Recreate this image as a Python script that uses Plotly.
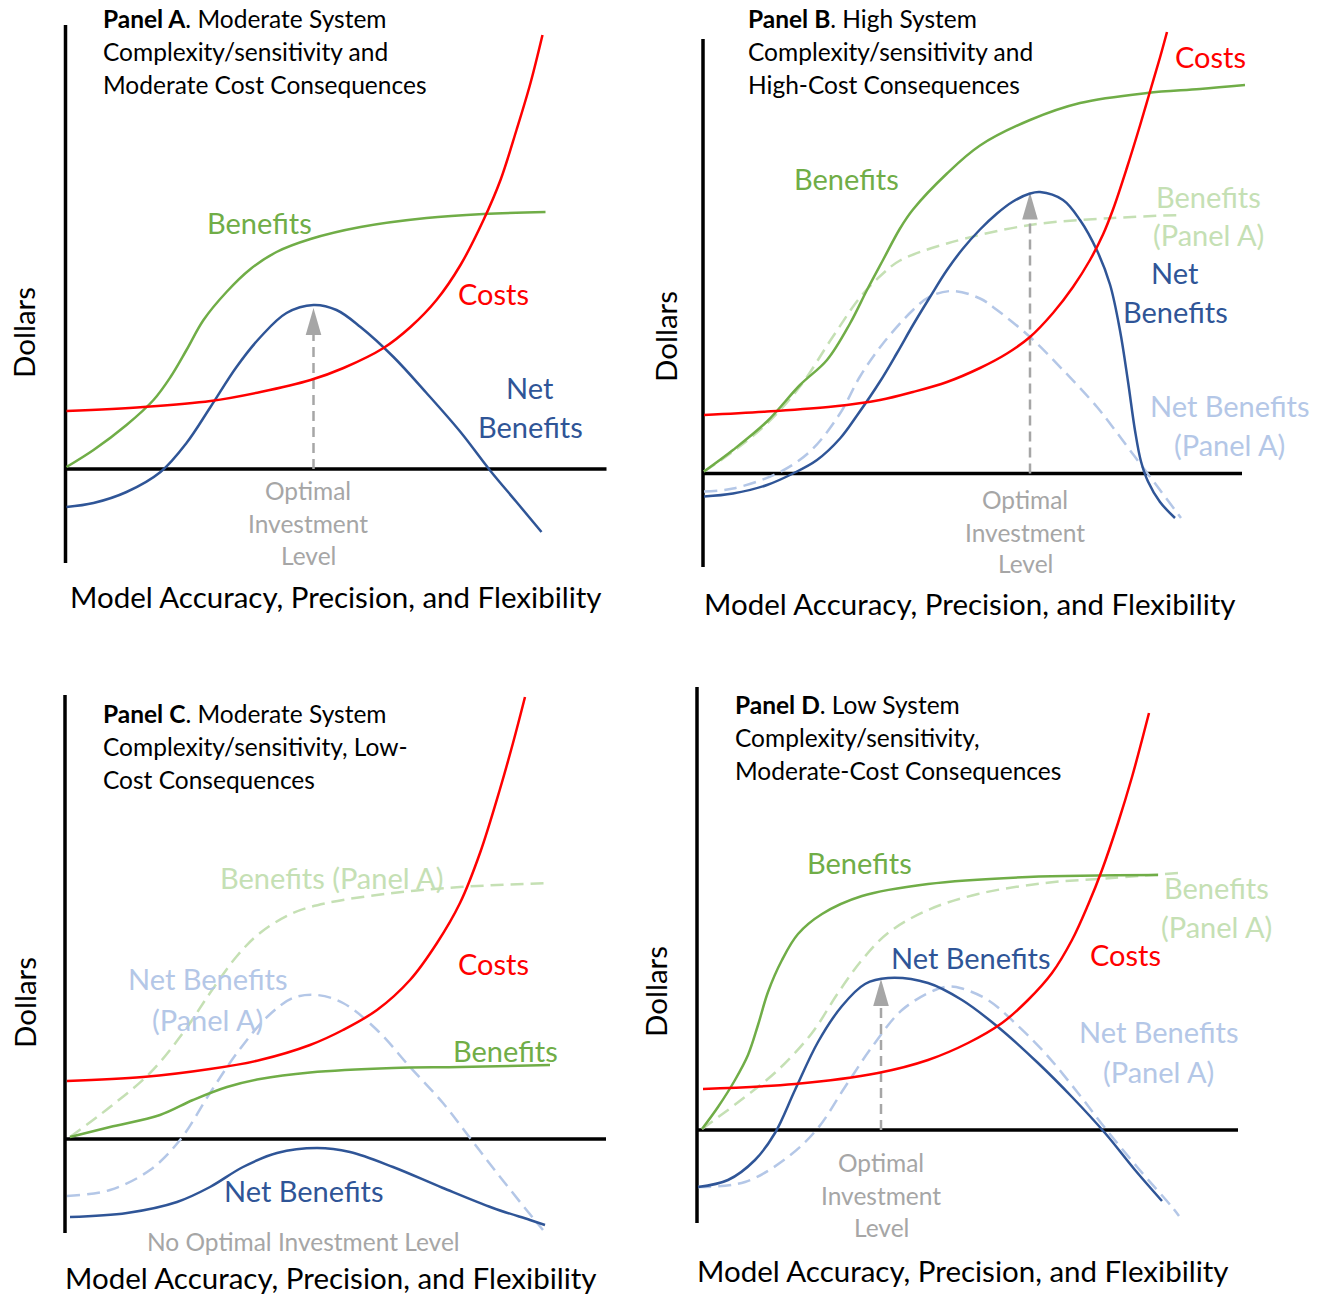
import plotly.graph_objects as go

W, H = 1327, 1295
PX = 10.0  # pixels per data unit (same on both axes)

# ---------------- DATA (arbitrary "dollar" units) ----------------
# Panel A
A_x_costs = [0.1, 7.8, 14.5, 19.5, 24.5, 27.8, 31.8, 34.5, 37.1, 39.5, 41.8, 43.5, 45.1, 46.5, 47.7]
A_costs = [5.8, 6.2, 6.8, 7.7, 8.9, 10.1, 12.1, 14.2, 16.9, 20.4, 24.9, 28.9, 33.9, 38.6, 43.4]
A_x_ben = [0.1, 2.8, 6.1, 8.8, 10.5, 12.1, 13.8, 16.1, 18.5, 21.1, 24.5, 29.5, 36.1, 41.8, 48]
A_ben = [0.2, 1.9, 4.4, 6.9, 9.2, 11.9, 14.9, 17.7, 20.0, 21.7, 23.0, 24.2, 25.1, 25.5, 25.7]
A_x_net = [0.1, 2.8, 6.1, 9.5, 12.1, 14.5, 17.1, 19.5, 22.1, 24.8, 27.1, 29.5, 32.8, 36.1, 39.5, 42.5, 45.1, 47.6]
A_net = [-3.8, -3.4, -2.3, -0.3, 2.6, 6.2, 10.2, 13.2, 15.6, 16.4, 15.9, 14.2, 11.2, 7.6, 3.7, -0.2, -3.3, -6.3]
A_optimal = [24.8, 16.1]            # investment level, net benefit at optimum
A_axes = [54.1, 44.4, -9.4]         # x-axis end, y-axis top, y-axis bottom

# Panel B
B_x_costs = [0.1, 6.4, 13, 17.7, 21, 24.4, 27.7, 30.4, 32.7, 35, 37, 38.7, 40, 41, 42.4, 43.7, 44.7, 45.7, 46.4]
B_costs = [5.85, 6.2, 6.7, 7.35, 8.15, 9.15, 10.55, 12.0, 13.65, 16.05, 18.65, 21.35, 23.9, 26.4, 30.6,
           34.8, 38.2, 41.6, 44.15]
B_x_ben = [0.1, 3, 6.4, 9.7, 12.4, 14.7, 16.4, 18, 19.7, 21, 24.4, 27.7, 32.7, 37.7, 44.4, 49.7, 54.2]
B_ben = [0.2, 2.35, 5.2, 8.85, 11.35, 15.0, 18.35, 21.35, 24.5, 26.4, 30.0, 32.8, 35.35, 37.05, 38.05,
         38.45, 38.85]
B_x_benA = [0.1, 3, 6.4, 9.7, 13, 15.7, 18, 19.7, 24.4, 32.7, 41, 47.7]
B_benA = [0.2, 2.2, 5.0, 8.7, 13.7, 17.6, 20.0, 21.3, 23.0, 24.85, 25.55, 25.85]
B_x_netA = [0.1, 3, 7.4, 10.7, 13.7, 15.7, 18, 21, 22.7, 25, 27.7, 29.4, 32.7, 36, 39.4, 41, 43.1, 45.7, 47.8]
B_netA = [-1.8, -1.5, 0, 2.2, 6.0, 9.7, 13.0, 16.35, 17.7, 18.25, 17.5, 16.35, 13.65, 10.35, 6.65, 4.6, 1.8,
          -1.65, -4.45]
B_x_net = [0.1, 3, 6.4, 9, 11.4, 13.7, 15.4, 17.7, 19.4, 21, 22.7, 24.4, 26, 27.7, 29.4, 31, 32.7, 33.7, 36,
           37.7, 39.4, 40.7, 41.7, 42.5, 43.2, 43.8, 44.5, 45.7, 47.2]
B_net = [-2.3, -2.0, -1.15, 0, 1.35, 3.5, 5.8, 9.2, 12.05, 14.85, 17.65, 20.35, 22.5, 24.4, 26.0, 27.2,
         28.0, 28.15, 27.35, 25.35, 22.3, 18.9, 14.3, 9.2, 4.3, 1.2, -0.8, -2.85, -4.45]
B_optimal = [32.7, 28.1]
B_axes = [53.9, 43.45, -9.35]

# Panel C
C_x_costs = [0.2, 7.8, 14.5, 19.5, 24.5, 27.8, 31.2, 34.5, 37.2, 39.5, 41.5, 43.5, 44.8, 46]
C_costs = [5.8, 6.2, 7.0, 7.9, 9.4, 10.9, 12.9, 15.9, 19.6, 23.6, 28.6, 35.0, 39.6, 44.2]
C_x_ben = [0.5, 4.5, 9.5, 12.8, 16.2, 19.5, 24.5, 32.8, 39.5, 48.5]
C_ben = [0.2, 1.2, 2.4, 3.9, 5.2, 6.0, 6.65, 7.1, 7.2, 7.4]
C_x_benA = [0.5, 4.5, 8.5, 11.8, 14.5, 17.2, 19.5, 22.8, 26.2, 32.8, 39.5, 48.3]
C_benA = [0.2, 3.2, 6.6, 10.6, 14.6, 18.3, 20.6, 22.6, 23.6, 24.6, 25.2, 25.6]
C_x_netA = [0.2, 4.5, 8.5, 11.5, 14.5, 17.2, 20.2, 22.8, 25.2, 27.8, 31.2, 34.5, 37.8, 40.5, 43.2, 46.8, 47.8]
C_netA = [-5.7, -5.1, -3.1, -0.1, 4.6, 8.6, 12.2, 14.1, 14.4, 13.6, 10.9, 7.2, 3.6, 0.1, -3.4, -7.9, -9.1]
C_x_net = [0.5, 6.2, 11.2, 14.5, 17.8, 21.2, 25.2, 28.5, 32.8, 37.8, 42.8, 46.5, 48]
C_net = [-7.8, -7.4, -6.3, -4.8, -2.8, -1.4, -0.9, -1.3, -2.8, -4.9, -6.9, -8.1, -8.6]
C_axes = [54.1, 44.4, -9.4]

# Panel D
D_x_costs = [0.6, 9.8, 18.1, 23.1, 27.1, 30.5, 33.1, 35.5, 37.5, 39.1, 40.5, 42.1, 43.5, 44.5, 45.2]
D_costs = [4.1, 4.6, 5.7, 7.0, 8.7, 10.7, 13.0, 15.7, 19.0, 22.5, 26.0, 30.7, 35.3, 39.0, 41.7]
D_x_ben = [0.5, 2.1, 3.8, 5.1, 6.1, 7.1, 8.5, 10.1, 12.5, 16.5, 23.1, 33.1, 46.1]
D_ben = [0.1, 2.3, 5.0, 7.5, 10.5, 13.8, 17.0, 19.6, 21.6, 23.4, 24.6, 25.3, 25.5]
D_x_benA = [0.5, 4.8, 8.1, 11.5, 14.1, 16.5, 19.1, 23.1, 28.1, 34.8, 41.5, 48.1]
D_benA = [0.1, 3.3, 6.0, 9.7, 13.7, 17.0, 19.7, 22.0, 23.6, 24.7, 25.2, 25.7]
D_x_netA = [0.1, 4.8, 9.1, 12.1, 14.8, 17.5, 20.5, 23.8, 25.2, 26.5, 29.1, 31.8, 34.8, 38.1, 40.8, 44.1, 47.5, 48.2]
D_netA = [-5.7, -5.2, -2.7, 0.2, 4.3, 8.3, 12.0, 14.0, 14.35, 14.15, 13.0, 10.7, 7.7, 3.7, 0.2, -3.8, -7.7, -8.6]
D_x_net = [0.1, 3.1, 5.8, 7.8, 9.8, 12.1, 14.5, 16.8, 19.1, 23.1, 26.5, 30.1, 34.1, 37.5, 40.8, 43.8, 46.5]
D_net = [-5.7, -5.0, -3.0, -0.3, 4.0, 8.8, 12.4, 14.6, 15.2, 14.7, 13.0, 10.3, 6.7, 3.3, -0.3, -4.0, -7.1]
D_optimal = [18.4, 15.1]
D_axes = [54.1, 44.3, -9.3]

# ---------------- STYLE ----------------
GREEN, RED, BLUE = "#70AD47", "#FF0000", "#2F5597"
LGREEN, LBLUE, GRAY = "#C5E0B4", "#B4C7E7", "#A6A6A6"
FONT = "Lato, Carlito, Calibri, 'Open Sans', sans-serif"
LW = 2.5
LABEL_SIZE = 29
TITLE_SIZE = 24.5
AXIS_SIZE = 29.5
SMOOTH = 1.0

# panel layout: origin of the axes in pixels and pixel box of each subplot
PANELS = {
    "A": dict(origin=(65.5, 469), box=(0, 0, 660, 645)),
    "B": dict(origin=(703, 473.5), box=(660, 0, 1327, 645)),
    "C": dict(origin=(65, 1139), box=(0, 645, 660, 1295)),
    "D": dict(origin=(697, 1130), box=(660, 645, 1327, 1295)),
}
ORDER = ["A", "B", "C", "D"]

fig = go.Figure()
layout_axes = {}
for i, key in enumerate(ORDER, start=1):
    ox, oy = PANELS[key]["origin"]
    bx0, by0, bx1, by1 = PANELS[key]["box"]
    sfx = "" if i == 1 else str(i)
    layout_axes["xaxis" + sfx] = dict(domain=[bx0 / W, bx1 / W], range=[(bx0 - ox) / PX, (bx1 - ox) / PX],
                                      visible=False, fixedrange=True, anchor="y" + sfx)
    layout_axes["yaxis" + sfx] = dict(domain=[1 - by1 / H, 1 - by0 / H], range=[(oy - by1) / PX, (oy - by0) / PX],
                                      visible=False, fixedrange=True, anchor="x" + sfx)
    PANELS[key]["xa"] = "x" + sfx
    PANELS[key]["ya"] = "y" + sfx


def line(key, xs, ys, color, dash=None, width=LW, shape="spline"):
    fig.add_trace(go.Scatter(
        x=xs, y=ys, mode="lines", xaxis=PANELS[key]["xa"], yaxis=PANELS[key]["ya"],
        line=dict(color=color, width=width, dash=dash, shape=shape, smoothing=SMOOTH),
        hoverinfo="skip", showlegend=False))


def axes_lines(key, ext):
    x_end, y_top, y_bot = ext
    line(key, [0, x_end], [0, 0], "black", width=3.5, shape="linear")
    line(key, [0, 0], [y_bot, y_top], "black", width=3.5, shape="linear")


def arrow(key, opt):
    x, tip = opt
    hl, hw = 27 / PX, 7.8 / PX
    line(key, [x, x], [0, tip - hl], GRAY, dash="10px,6px", width=2.5, shape="linear")
    fig.add_trace(go.Scatter(
        x=[x - hw, x + hw, x, x - hw], y=[tip - hl, tip - hl, tip, tip - hl], mode="lines",
        fill="toself", fillcolor=GRAY, line=dict(width=0, color=GRAY),
        xaxis=PANELS[key]["xa"], yaxis=PANELS[key]["ya"], hoverinfo="skip", showlegend=False))


DASH = "13px,7px"

# Panel A
axes_lines("A", A_axes)
arrow("A", A_optimal)
line("A", A_x_ben, A_ben, GREEN)
line("A", A_x_net, A_net, BLUE)
line("A", A_x_costs, A_costs, RED)

# Panel B
axes_lines("B", B_axes)
line("B", B_x_benA, B_benA, LGREEN, dash=DASH)
line("B", B_x_netA, B_netA, LBLUE, dash=DASH)
arrow("B", B_optimal)
line("B", B_x_ben, B_ben, GREEN)
line("B", B_x_net, B_net, BLUE)
line("B", B_x_costs, B_costs, RED)

# Panel C
axes_lines("C", C_axes)
line("C", C_x_benA, C_benA, LGREEN, dash=DASH)
line("C", C_x_netA, C_netA, LBLUE, dash=DASH)
line("C", C_x_ben, C_ben, GREEN)
line("C", C_x_net, C_net, BLUE)
line("C", C_x_costs, C_costs, RED)

# Panel D
axes_lines("D", D_axes)
line("D", D_x_benA, D_benA, LGREEN, dash=DASH)
line("D", D_x_netA, D_netA, LBLUE, dash=DASH)
arrow("D", D_optimal)
line("D", D_x_ben, D_ben, GREEN)
line("D", D_x_net, D_net, BLUE)
line("D", D_x_costs, D_costs, RED)

# ---------------- TEXT ----------------
annotations = []


def txt(text, x, y, size, color="black", xanchor="center", angle=0):
    annotations.append(dict(text=text, x=x / W, y=1 - y / H, xref="paper", yref="paper",
                            xanchor=xanchor, yanchor="middle", showarrow=False, textangle=angle,
                            borderpad=0, font=dict(family=FONT, size=size, color=color)))


TITLES = {
    "A": (102, [18, 51, 84], ["<b>Panel A</b>. Moderate System", "Complexity/sensitivity and",
                              "Moderate Cost Consequences"]),
    "B": (747, [18, 51, 84], ["<b>Panel B</b>. High System", "Complexity/sensitivity and",
                              "High-Cost Consequences"]),
    "C": (102, [713, 746, 779], ["<b>Panel C</b>. Moderate System", "Complexity/sensitivity, Low-",
                                 "Cost Consequences"]),
    "D": (734, [704, 737, 770], ["<b>Panel D</b>. Low System", "Complexity/sensitivity,",
                                 "Moderate-Cost Consequences"]),
}
for key in ORDER:
    x0, ys, lines_ = TITLES[key]
    for yy, t in zip(ys, lines_):
        txt(t, x0, yy, TITLE_SIZE, xanchor="left")

XTITLE = "Model Accuracy, Precision, and Flexibility"
for (xx, yy) in [(336, 597), (970, 603), (331, 1277), (963, 1270)]:
    txt(XTITLE, xx, yy, AXIS_SIZE)
for (xx, yy) in [(24, 333), (665, 337), (24, 1003), (655, 992)]:
    txt("Dollars", xx, yy, AXIS_SIZE, angle=-90)

# Panel A labels
txt("Benefits", 259, 222, LABEL_SIZE, GREEN)
txt("Costs", 493, 293, LABEL_SIZE, RED)
txt("Net", 530, 387, LABEL_SIZE, BLUE)
txt("Benefits", 530, 426, LABEL_SIZE, BLUE)
for yy, t in zip([490, 523, 555], ["Optimal", "Investment", "Level"]):
    txt(t, 308, yy, TITLE_SIZE, GRAY)

# Panel B labels
txt("Costs", 1210, 57, LABEL_SIZE, RED)
txt("Benefits", 846, 179, LABEL_SIZE, GREEN)
txt("Benefits", 1208, 196, LABEL_SIZE, LGREEN)
txt("(Panel A)", 1208, 235, LABEL_SIZE, LGREEN)
txt("Net", 1175, 272, LABEL_SIZE, BLUE)
txt("Benefits", 1175, 311, LABEL_SIZE, BLUE)
txt("Net Benefits", 1229, 405, LABEL_SIZE, LBLUE)
txt("(Panel A)", 1229, 444, LABEL_SIZE, LBLUE)
for yy, t in zip([499, 532, 564], ["Optimal", "Investment", "Level"]):
    txt(t, 1025, yy, TITLE_SIZE, GRAY)

# Panel C labels
txt("Benefits (Panel A)", 332, 877, LABEL_SIZE, LGREEN)
txt("Costs", 493, 963, LABEL_SIZE, RED)
txt("Net Benefits", 207, 979, LABEL_SIZE, LBLUE)
txt("(Panel A)", 207, 1019, LABEL_SIZE, LBLUE)
txt("Benefits", 505, 1050, LABEL_SIZE, GREEN)
txt("Net Benefits", 303, 1190, LABEL_SIZE, BLUE)
txt("No Optimal Investment Level", 303, 1241, TITLE_SIZE, GRAY)

# Panel D labels
txt("Benefits", 860, 862, LABEL_SIZE, GREEN)
txt("Net Benefits", 970, 957, LABEL_SIZE, BLUE)
txt("Costs", 1125, 954, LABEL_SIZE, RED)
txt("Benefits", 1216, 887, LABEL_SIZE, LGREEN)
txt("(Panel A)", 1216, 926, LABEL_SIZE, LGREEN)
txt("Net Benefits", 1158, 1031, LABEL_SIZE, LBLUE)
txt("(Panel A)", 1158, 1071, LABEL_SIZE, LBLUE)
for yy, t in zip([1162, 1195, 1227], ["Optimal", "Investment", "Level"]):
    txt(t, 881, yy, TITLE_SIZE, GRAY)

fig.update_layout(
    width=W, height=H, autosize=False,
    margin=dict(l=0, r=0, t=0, b=0, pad=0),
    paper_bgcolor="white", plot_bgcolor="rgba(0,0,0,0)",
    showlegend=False, annotations=annotations,
    font=dict(family=FONT),
    **layout_axes,
)

fig.write_html("out.html", config={"displayModeBar": False, "staticPlot": True},
               post_script="document.body.style.margin='0';")
